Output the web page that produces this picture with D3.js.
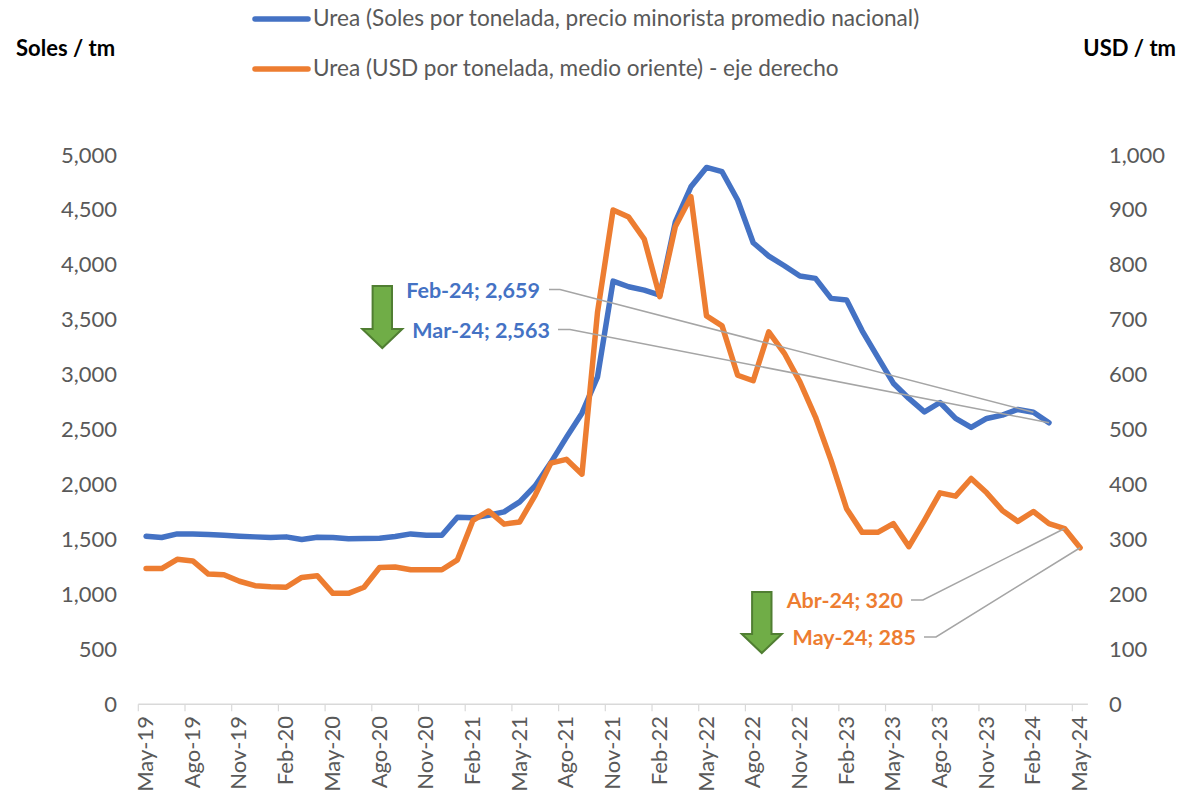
<!DOCTYPE html>
<html><head><meta charset="utf-8">
<script src="https://cdn.jsdelivr.net/npm/d3@7"></script>
<style>html,body{margin:0;padding:0;background:#fff}svg{display:block}text{font-family:Lato,Carlito,sans-serif}</style>
</head><body><div id="chart"></div>
<script>
const months = ["May-19","Jun-19","Jul-19","Ago-19","Sep-19","Oct-19","Nov-19","Dic-19","Ene-20","Feb-20","Mar-20","Abr-20","May-20","Jun-20","Jul-20","Ago-20","Sep-20","Oct-20","Nov-20","Dic-20","Ene-21","Feb-21","Mar-21","Abr-21","May-21","Jun-21","Jul-21","Ago-21","Sep-21","Oct-21","Nov-21","Dic-21","Ene-22","Feb-22","Mar-22","Abr-22","May-22","Jun-22","Jul-22","Ago-22","Sep-22","Oct-22","Nov-22","Dic-22","Ene-23","Feb-23","Mar-23","Abr-23","May-23","Jun-23","Jul-23","Ago-23","Sep-23","Oct-23","Nov-23","Dic-23","Ene-24","Feb-24","Mar-24","Abr-24","May-24"];
const ureaSoles = [1530,1518,1551,1551,1545,1539,1530,1524,1518,1524,1500,1521,1518,1506,1509,1512,1527,1551,1539,1539,1703,1697,1721,1752,1843,1990,2200,2430,2650,2981,3852,3801,3770,3725,4392,4711,4887,4848,4590,4201,4080,3992,3898,3877,3695,3680,3400,3160,2923,2784,2662,2747,2602,2520,2602,2632,2684,2659,2563,null,null];
const ureaUsd = [247,247,264,261,237,236,224,216,214,213,231,234,202,202,213,249,250,245,245,245,263,335,352,328,332,381,439,446,419,714,900,887,847,742,870,924,707,689,599,589,678,639,587,523,444,356,313,313,329,287,335,385,379,411,385,353,333,351,329,320,285];
const leftTicks = [0,500,1000,1500,2000,2500,3000,3500,4000,4500,5000];
const rightTicks = [0,100,200,300,400,500,600,700,800,900,1000];
const legendLabels = ["Urea (Soles por tonelada, precio minorista promedio nacional)","Urea (USD por tonelada, medio oriente) - eje derecho"];
const blueCallouts = ["Feb-24","Mar-24"];
const orangeCallouts = ["Abr-24","May-24"];

const BLUE="#4472C4", ORANGE="#ED7D31", GREY="#595959", RULE="#D9D9D9", LEADER="#A5A5A5";
const svg=d3.select("#chart").append("svg").attr("width",1179).attr("height",795);
const x=d3.scaleBand().domain(months).range([138.3,1087.9]);
const yL=d3.scaleLinear().domain([0,5000]).range([704.3,155]);
const yR=d3.scaleLinear().domain([0,1000]).range([704.3,155]);
const cx=m=>x(m)+x.bandwidth()/2;

// axes
const gL=svg.append("g").attr("transform","translate(117,0)").call(d3.axisLeft(yL).tickValues(leftTicks).tickSize(0).tickPadding(0).tickFormat(d3.format(",")));
const gR=svg.append("g").attr("transform","translate(1109,0)").call(d3.axisRight(yR).tickValues(rightTicks).tickSize(0).tickPadding(0).tickFormat(d3.format(",")));
[gL,gR].forEach(g=>{g.select(".domain").remove();g.selectAll("text").attr("font-size",22).attr("font-family","Lato,Carlito,sans-serif").attr("fill",GREY);});

const xTickMonths=months.filter((m,i)=>i%3===0);
const gX=svg.append("g");
gX.append("line").attr("x1",x.range()[0]).attr("x2",x.range()[1]).attr("y1",yL(0)).attr("y2",yL(0)).attr("stroke",RULE).attr("stroke-width",1.5);
gX.selectAll("line.t").data(xTickMonths).join("line").attr("class","t")
  .attr("x1",d=>x(d)).attr("x2",d=>x(d)).attr("y1",yL(0)).attr("y2",yL(0)+7).attr("stroke",RULE).attr("stroke-width",1.2);
gX.selectAll("text").data(xTickMonths).join("text")
  .attr("transform",d=>`translate(${cx(d)+7},716) rotate(-90)`)
  .attr("text-anchor","end").attr("font-size",22).attr("fill",GREY).text(d=>d);

// lines
const lineL=d3.line().defined(d=>d[1]!=null).x(d=>cx(d[0])).y(d=>yL(d[1]));
const lineR=d3.line().defined(d=>d[1]!=null).x(d=>cx(d[0])).y(d=>yR(d[1]));
svg.append("path").datum(months.map((m,i)=>[m,ureaSoles[i]])).attr("d",lineL).attr("fill","none").attr("stroke",BLUE).attr("stroke-width",5.5).attr("stroke-linecap","round").attr("stroke-linejoin","round");
svg.append("path").datum(months.map((m,i)=>[m,ureaUsd[i]])).attr("d",lineR).attr("fill","none").attr("stroke",ORANGE).attr("stroke-width",5.5).attr("stroke-linecap","round").attr("stroke-linejoin","round");

// legend
legendLabels.forEach((t,i)=>{
  const y=[19,69][i];
  svg.append("line").attr("x1",255).attr("x2",308).attr("y1",y).attr("y2",y).attr("stroke",i?ORANGE:BLUE).attr("stroke-width",5.5).attr("stroke-linecap","round");
  svg.append("text").attr("x",313).attr("y",y+7).attr("font-size",22.6).attr("fill",GREY).text(t);
});

// unit titles
svg.append("text").attr("x",16).attr("y",56).attr("font-size",22).attr("font-weight",700).attr("fill","#000").text("Soles / tm");
svg.append("text").attr("x",1176).attr("y",56).attr("text-anchor","end").attr("font-size",22).attr("font-weight",700).attr("fill","#000").text("USD / tm");

// callouts
const callouts=[
 {m:blueCallouts[0],v:ureaSoles,sc:yL,c:BLUE,tx:540,ty:298,lx:[549,560],ly:289.5},
 {m:blueCallouts[1],v:ureaSoles,sc:yL,c:BLUE,tx:550,ty:338,lx:[558,570],ly:329.5},
 {m:orangeCallouts[0],v:ureaUsd,sc:yR,c:ORANGE,tx:903,ty:608,lx:[911,923],ly:600},
 {m:orangeCallouts[1],v:ureaUsd,sc:yR,c:ORANGE,tx:916,ty:645,lx:[924,936],ly:637}
];
callouts.forEach(o=>{
  const val=o.v[months.indexOf(o.m)];
  svg.append("path").attr("d",d3.line()([[o.lx[0],o.ly],[o.lx[1],o.ly],[cx(o.m),o.sc(val)]]))
    .attr("fill","none").attr("stroke",LEADER).attr("stroke-width",1.5);
  svg.append("text").attr("x",o.tx).attr("y",o.ty).attr("text-anchor","end").attr("font-size",21.5).attr("font-weight",700).attr("fill",o.c)
    .text(`${o.m}; ${d3.format(",")(val)}`);
});

// arrows
[[382.3,286,329,348],[761.8,592,634,653]].forEach(([c,top,wing,tip])=>{
  svg.append("path").attr("d",`M${c-9.7},${top}H${c+9.7}V${wing}H${c+20}L${c},${tip}L${c-20},${wing}H${c-9.7}Z`)
    .attr("fill","#70AD47").attr("stroke","#507E32").attr("stroke-width",2);
});
</script></body></html>
